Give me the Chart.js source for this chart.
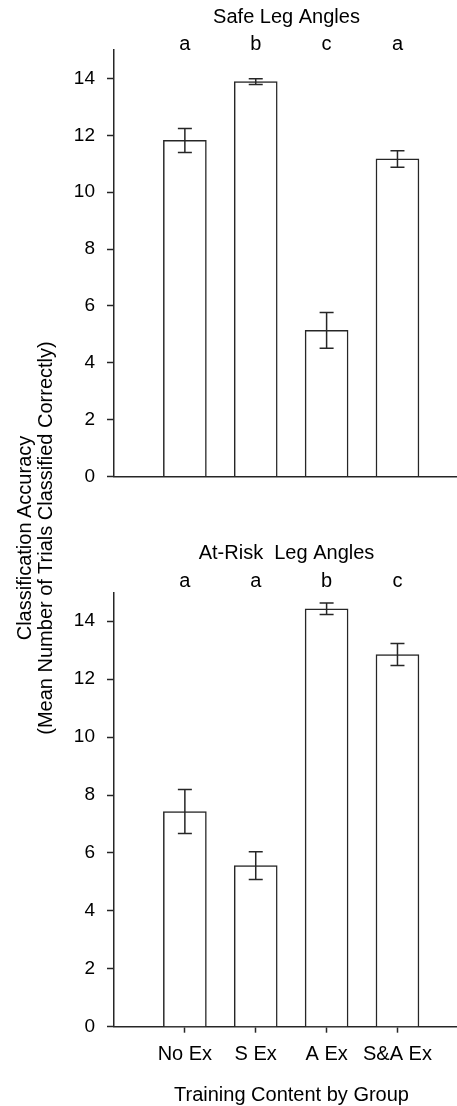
<!DOCTYPE html>
<html>
<head>
<meta charset="utf-8">
<script src="https://cdn.jsdelivr.net/npm/chart.js@4/dist/chart.umd.min.js"></script>
<style>
  body { margin: 0; background: #fff; }
  #wrap { position: relative; width: 457px; height: 1106px; overflow: hidden; }
  canvas { position: absolute; left: 0; }
  #yTitle {
    position: absolute; left: -194.5px; top: 516px; width: 460px; height: 44px;
    transform: rotate(-90deg); text-align: center; white-space: nowrap;
    font: 20px "Liberation Sans", Arial, sans-serif; line-height: 21px; color: #000;
  }
</style>
</head>
<body>
<div id="wrap">
  <canvas id="safeChart" width="457" height="500" style="top:0"></canvas>
  <canvas id="riskChart" width="457" height="606" style="top:500px"></canvas>
  <div id="yTitle">Classification Accuracy<br>(Mean Number of Trials Classified Correctly)</div>
</div>
<script>
const categories = ["No Ex", "S Ex", "A Ex", "S&A Ex"];

// Safe leg angles (mean +/- error)
const safeMeans = [11.82, 13.89, 5.14, 11.17];
const safeErr = [0.42, 0.10, 0.63, 0.29];
const safeLetters = ["a", "b", "c", "a"];

// At-risk leg angles
const riskMeans = [7.43, 5.56, 14.43, 12.85];
const riskErr = [0.76, 0.48, 0.20, 0.38];
const riskLetters = ["a", "a", "b", "c"];

const yMax = 15;
const yStep = 2;
const xMax = 4.84;

const INK = "#262626";
const FAMILY = '"Liberation Sans", Arial, sans-serif';
const FONT = "20px " + FAMILY;

// error bars + letters + titles drawn on top of the bars
const panelText = {
  id: "panelText",
  afterDatasetsDraw(chart, args, opts) {
    const { ctx, chartArea, scales } = chart;
    const means = chart.data.datasets[0].data.map(p => p.y);
    ctx.save();
    ctx.strokeStyle = INK;
    ctx.lineWidth = 1.5;
    opts.err.forEach((e, i) => {
      const x = scales.x.getPixelForValue(i + 1);
      const yTop = scales.y.getPixelForValue(means[i] + e);
      const yBot = scales.y.getPixelForValue(means[i] - e);
      ctx.beginPath();
      ctx.moveTo(x, yTop); ctx.lineTo(x, yBot);
      ctx.moveTo(x - 7, yTop); ctx.lineTo(x + 7, yTop);
      ctx.moveTo(x - 7, yBot); ctx.lineTo(x + 7, yBot);
      ctx.stroke();
    });

    ctx.fillStyle = "#000";
    ctx.font = FONT;
    ctx.textAlign = "center";
    ctx.textBaseline = "alphabetic";
    opts.letters.forEach((t, i) => {
      ctx.fillText(t, scales.x.getPixelForValue(i + 1), chartArea.top - opts.letterGap);
    });
    const mid = (chartArea.left + chartArea.right) / 2;
    ctx.fillText(opts.title, mid + 1, chartArea.top - opts.titleGap);
    if (opts.xTitle) {
      ctx.fillText(opts.xTitle, mid + 6, chartArea.bottom + 74);
    }
    ctx.restore();
  }
};

function makeChart(id, means, opts) {
  const ctx = document.getElementById(id).getContext("2d");
  return new Chart(ctx, {
    type: "bar",
    data: {
      datasets: [{
        data: means.map((v, i) => ({ x: i + 1, y: v })),
        backgroundColor: "#fff",
        borderColor: INK,
        borderWidth: 1.5,
        barThickness: 43,
      }],
    },
    options: {
      responsive: false,
      animation: false,
      layout: { padding: { top: opts.top, left: 0, right: 0, bottom: 0 } },
      plugins: {
        legend: { display: false },
        tooltip: { enabled: false },
        panelText: opts.text,
      },
      scales: {
        x: {
          type: "linear",
          min: 0,
          max: xMax,
          offset: false,
          afterBuildTicks: s => { s.ticks = [1, 2, 3, 4].map(v => ({ value: v })); },
          afterFit: s => { s.height = opts.xHeight; },
          border: { display: true, color: INK, width: 1.5 },
          grid: {
            offset: false,
            drawOnChartArea: false,
            drawTicks: opts.xTicks,
            tickLength: 6,
            tickColor: INK,
            tickWidth: 1.5,
          },
          ticks: {
            display: opts.xTicks,
            color: "#000",
            font: { family: FAMILY, size: 20 },
            padding: 10,
            maxRotation: 0,
            autoSkip: false,
            callback: v => categories[v - 1],
          },
        },
        y: {
          min: 0,
          max: yMax,
          afterFit: s => { s.width = 114; },
          border: { display: true, color: INK, width: 1.5 },
          grid: {
            drawOnChartArea: false,
            tickLength: 7,
            tickColor: INK,
            tickWidth: 1.5,
          },
          ticks: {
            stepSize: yStep,
            includeBounds: false,
            color: "#000",
            font: { family: FAMILY, size: 19 },
            padding: 12,
          },
        },
      },
    },
    plugins: [panelText],
  });
}

makeChart("safeChart", safeMeans, {
  top: 50,
  xHeight: 16,
  xTicks: false,
  text: { err: safeErr, letters: safeLetters, title: "Safe Leg Angles", letterGap: 0, titleGap: 27 },
});

makeChart("riskChart", riskMeans, {
  top: 92.3,
  xHeight: 79.3,
  xTicks: true,
  text: {
    err: riskErr, letters: riskLetters, title: "At-Risk  Leg Angles",
    letterGap: 5, titleGap: 33, xTitle: "Training Content by Group",
  },
});
</script>
</body>
</html>
